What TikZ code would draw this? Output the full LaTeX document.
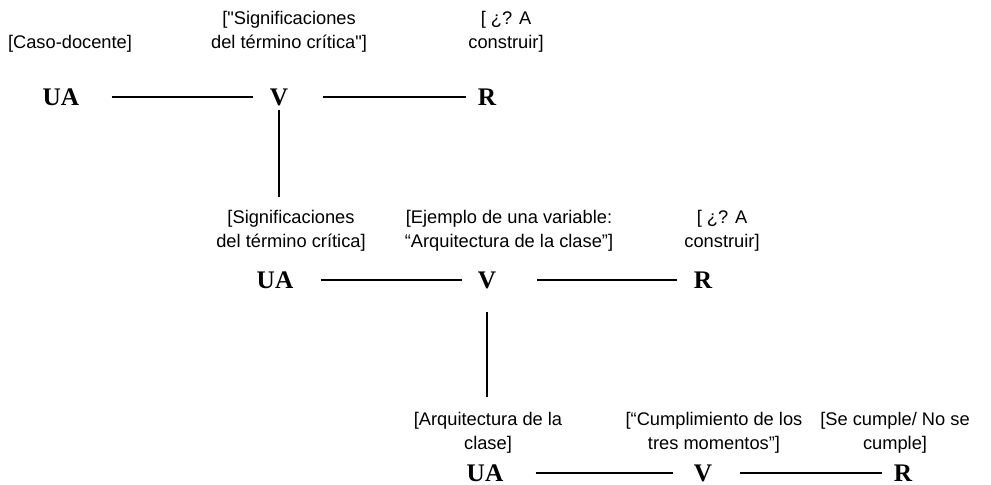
\documentclass[tikz,border=0pt]{standalone}
\usepackage{fontspec}
\setmainfont{Liberation Serif}
\setsansfont{Liberation Sans}[Ligatures=TeXOff]
\usepackage{tikz}

\begin{document}
\begin{tikzpicture}[x=0.025cm,y=-0.025cm,
    ltr/.style={inner sep=0pt,font=\bfseries\fontsize{18}{20}\selectfont},
    lbl/.style={inner sep=0pt,align=center,font=\sffamily\fontsize{13}{17.3}\selectfont},
    bar/.style={line width=1pt}]
\useasboundingbox (0,0) rectangle (991,485);
% first row
\node[ltr] (ua1) at (61,97){UA};
\node[ltr] (v1) at (279,97){V};
\node[ltr] (r1) at (487,97){R};
\node[lbl] (t1a) at (70,44){[Caso-docente]};
\node[lbl] (t1b) at (289,32){["Significaciones\\del término crítica"]};
\node[lbl] (t1c) at (506,32){[ ¿? A\\construir]};
\draw[bar,shorten <=0.8cm,shorten >=0.425cm] (ua1.east)--(v1.west);
\draw[bar,shorten <=0.875cm,shorten >=0.3cm] (v1.east)--(r1.west);
\coordinate (d1) at (279,197);
\draw[bar,shorten <=0.1cm] (v1.south)--(d1);
% second row
\node[ltr] (ua2) at (275,280){UA};
\node[ltr] (v2) at (487,280){V};
\node[ltr] (r2) at (703,280){R};
\node[lbl] (t2a) at (291,231){[Significaciones\\del término crítica]};
\node[lbl] (t2b) at (509,231){[Ejemplo de una variable:\\“Arquitectura de la clase”]};
\node[lbl] (t2c) at (722,231){[ ¿? A\\construir]};
\draw[bar,shorten <=0.675cm,shorten >=0.4cm] (ua2.east)--(v2.west);
\draw[bar,shorten <=1.025cm,shorten >=0.425cm] (v2.east)--(r2.west);
\coordinate (d2) at (487,397);
\draw[bar,shorten <=0.575cm] (v2.south)--(d2);
% third row
\node[ltr] (ua3) at (485,473){UA};
\node[ltr] (v3) at (703,473){V};
\node[ltr] (r3) at (903,473){R};
\node[lbl] (t3a) at (488,433){[Arquitectura de la\\clase]};
\node[lbl] (t3b) at (714,433){[“Cumplimiento de los\\tres momentos”]};
\node[lbl] (t3c) at (895,433){[Se cumple/ No se\\cumple]};
\draw[bar,shorten <=0.8cm,shorten >=0.525cm] (ua3.east)--(v3.west);
\draw[bar,shorten <=0.7cm,shorten >=0.3cm] (v3.east)--(r3.west);
\end{tikzpicture}
\end{document}
